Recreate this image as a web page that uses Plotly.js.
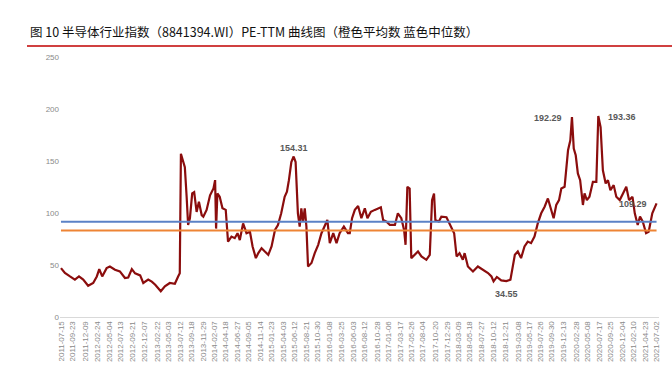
<!DOCTYPE html>
<html>
<head>
<meta charset="utf-8">
<script src="https://cdn.plot.ly/plotly-3.0.1.min.js"></script>
<style>html,body{margin:0;padding:0;background:#fff;}#chart{width:672px;height:372px;}</style>
</head>
<body>
<div id="chart"></div>
<script>
const titleText = '图 10 半导体行业指数（8841394.WI）PE-TTM 曲线图（橙色平均数 蓝色中位数）';

const dates = [
'2011-07-15','2011-08-08','2011-09-08','2011-10-08','2011-11-02','2011-11-28','2011-12-28',
'2012-01-28','2012-02-19','2012-03-05','2012-03-23','2012-04-19','2012-05-09','2012-06-09','2012-07-09',
'2012-08-09','2012-08-29','2012-09-20','2012-10-10','2012-11-10','2012-11-29','2012-12-29',
'2013-01-20','2013-02-10','2013-03-16','2013-04-10','2013-05-10','2013-06-10','2013-06-30','2013-07-10',
'2013-07-17','2013-07-30','2013-08-10','2013-08-21','2013-08-30','2013-09-10','2013-09-24','2013-10-06',
'2013-10-21','2013-11-04','2013-11-21','2013-12-01','2013-12-21',
'2014-01-11','2014-02-01','2014-02-11','2014-02-17','2014-02-25','2014-03-11','2014-03-28','2014-04-17',
'2014-05-01','2014-05-22','2014-06-11','2014-06-28','2014-07-12','2014-08-01','2014-08-22','2014-09-12',
'2014-09-28','2014-10-18','2014-11-02','2014-11-22','2014-12-12',
'2015-01-02','2015-01-22','2015-02-12','2015-03-02','2015-03-22','2015-04-12','2015-04-26','2015-05-08',
'2015-05-23','2015-06-06','2015-06-18','2015-07-02','2015-07-13','2015-07-23','2015-08-02','2015-08-13',
'2015-08-23','2015-09-02','2015-09-23','2015-10-13','2015-11-03','2015-11-23','2015-12-13','2015-12-29',
'2016-01-13','2016-02-03','2016-02-23','2016-03-13','2016-04-08','2016-05-03','2016-05-14','2016-05-28',
'2016-06-14','2016-07-04','2016-07-24','2016-08-14','2016-08-30','2016-09-20','2016-10-14','2016-11-04',
'2016-11-20','2016-12-04','2016-12-25',
'2017-01-14','2017-02-14','2017-03-04','2017-03-25','2017-04-11','2017-04-20','2017-05-01','2017-05-15',
'2017-05-25','2017-06-15','2017-07-05','2017-07-26','2017-08-25','2017-09-15','2017-09-29','2017-10-11',
'2017-10-19','2017-11-09','2017-11-25','2017-12-26',
'2018-01-22','2018-02-11','2018-02-26','2018-03-16','2018-04-05','2018-04-16','2018-05-06','2018-06-06',
'2018-07-06','2018-08-06','2018-09-06','2018-09-27','2018-10-10','2018-10-30','2018-11-26','2018-12-27',
'2019-01-21','2019-02-17','2019-03-07','2019-03-27','2019-04-17','2019-05-07','2019-05-27','2019-06-17',
'2019-07-07','2019-07-28','2019-08-18','2019-09-07','2019-09-28','2019-10-12','2019-10-28','2019-11-14',
'2019-11-28','2019-12-18',
'2020-01-08','2020-01-22','2020-02-01','2020-02-12','2020-02-24','2020-03-08','2020-03-22','2020-04-08',
'2020-04-18','2020-05-02','2020-05-18','2020-06-08','2020-06-29','2020-07-11','2020-07-25','2020-08-08',
'2020-08-25','2020-09-08','2020-09-23','2020-10-13','2020-10-29','2020-11-19','2020-12-09','2020-12-29',
'2021-01-15','2021-02-05','2021-02-19','2021-03-09','2021-03-23','2021-04-09','2021-04-29','2021-05-15',
'2021-06-06','2021-07-02'
];

const peTTM = [
47,42.3,39,36,39,36,30,
32.7,39,46,39,47,48.6,45.5,43.8,
37.5,38,46,42,40,32.7,36,
34,31,24.7,29.5,32.7,32,39,42,
157,150.7,144,115.6,88.5,95,118.8,120,
101,110.8,98,96.5,103,
117,123.6,131.6,85,118.8,115.6,104.5,103,
72.5,77.3,75.8,80.6,74,90,80.6,82,
67.8,56.6,61.4,66.2,63,
59.8,67.8,83.7,88.5,99.7,115.6,120.4,131.6,
149,154.31,149,99.7,86.9,104.5,91.7,104.5,
86.9,48.6,51.9,61.4,69.4,80.6,86.9,93.3,
71,80.6,71,80.6,86.9,80.6,80.6,95,
103,106.7,95,104.5,95,101.2,103,104.5,
105.5,93.3,91.7,
88.5,88.5,99.7,95,83.7,69.4,125.2,123.6,
56.6,59.8,63,58.2,55,59.8,112.4,118.8,
93.3,91.7,96.5,96,
86.9,80.6,58.2,61.4,55,61.4,48.6,43.8,
48.6,45.5,42.3,39,34.3,38.5,35.2,34.55,
35.9,59.8,63,56.6,67.8,72.5,71,77.3,
90,99.7,106,114,103,95,107.7,112.4,
123.6,125.2,
160.3,169.9,192.29,161.9,155.5,138,131.6,107.7,
118.8,112.4,115.6,130,130,193.36,182.6,141.1,
128.4,131.6,122,126.8,115.6,112.4,118.8,125.2,
112.4,115.6,99.7,88.5,96.5,91.7,80.6,82,
99.7,109.29
];

const medianPE = 91.7;
const meanPE = 83.1;

const tickLabels = [
'2011-07-15','2011-09-23','2011-12-09','2012-02-24','2012-05-04','2012-07-13','2012-09-21','2012-12-07',
'2013-02-22','2013-05-03','2013-07-12','2013-09-18','2013-11-29','2014-02-07','2014-04-18','2014-06-27',
'2014-09-05','2014-11-14','2015-01-23','2015-04-03','2015-06-12','2015-08-21','2015-10-30','2016-01-08',
'2016-03-25','2016-06-03','2016-08-12','2016-10-28','2017-01-06','2017-03-17','2017-05-26','2017-08-04',
'2017-10-20','2017-12-29','2018-03-09','2018-05-18','2018-07-27','2018-10-12','2018-12-21','2019-03-08',
'2019-05-17','2019-07-26','2019-09-30','2019-12-13','2020-02-28','2020-05-08','2020-07-17','2020-09-25',
'2020-12-04','2021-02-10','2021-04-23','2021-07-02'
];

const labelledPoints = [
  {date:'2015-06-06', value:154.31, pos:'top'},
  {date:'2020-02-01', value:192.29, pos:'left'},
  {date:'2020-07-11', value:193.36, pos:'right'},
  {date:'2018-12-27', value:34.55, pos:'bottom'},
  {date:'2021-07-02', value:109.29, pos:'left'}
];

const first = dates[0], last = dates[dates.length-1];

const traces = [
  {x: dates, y: peTTM, type:'scatter', mode:'lines', line:{color:'#8b0d0d', width:2.2}, hoverinfo:'skip'},
  {x: [first,last], y:[medianPE, medianPE], type:'scatter', mode:'lines', line:{color:'#5b82c6', width:2}, hoverinfo:'skip'},
  {x: [first,last], y:[meanPE, meanPE], type:'scatter', mode:'lines', line:{color:'#ee8434', width:2}, hoverinfo:'skip'}
];

const annFont = {family:'Liberation Sans, Arial, sans-serif', size:9, color:'#595959'};
const annotations = labelledPoints.map(p => {
  const a = {x:p.date, y:p.value, xref:'x', yref:'y', text:'<b>'+p.value.toFixed(2)+'</b>', showarrow:false, font:annFont};
  if (p.pos==='top') { a.yanchor='bottom'; a.yshift=2; }
  if (p.pos==='bottom') { a.yanchor='top'; a.yshift=-6; }
  if (p.pos==='left') { a.xanchor='right'; a.xshift=-8; a.yshift=-1; }
  if (p.pos==='right') { a.xanchor='left'; a.xshift=8; a.yshift=-1; }
  return a;
});

const layout = {
  width:672, height:372,
  margin:{l:60, r:13, t:57, b:55},
  paper_bgcolor:'#ffffff', plot_bgcolor:'#ffffff',
  showlegend:false,
  title:{text:titleText, x:30/672, xanchor:'left', xref:'container', y:1-33/372, yanchor:'middle', yref:'container',
         font:{family:'Noto Sans CJK SC, sans-serif', size:12.5, color:'#111111'}},
  xaxis:{type:'date', range:['2011-07-09','2021-07-17'], tickmode:'array', tickvals:tickLabels, ticktext:tickLabels,
         tickangle:-90, tickfont:{family:'Liberation Sans, Arial, sans-serif', size:8, color:'#8a8a8a'},
         showline:true, linecolor:'#d9d9d9', linewidth:1, showgrid:false, zeroline:false, ticks:'', fixedrange:true},
  yaxis:{range:[0,250], tickvals:[0,50,100,150,200,250], tickfont:{family:'Liberation Sans, Arial, sans-serif', size:8, color:'#8a8a8a'},
         showline:false, showgrid:false, zeroline:false, ticks:'', fixedrange:true},
  annotations: annotations,
  shapes:[{type:'line', xref:'paper', yref:'paper', x0:(27-60)/599, x1:(672-60)/599, y0:(317-46)/260, y1:(317-46)/260,
           line:{color:'#c00000', width:1.5}}]
};

Plotly.newPlot('chart', traces, layout, {displayModeBar:false, staticPlot:true});
</script>
</body>
</html>
